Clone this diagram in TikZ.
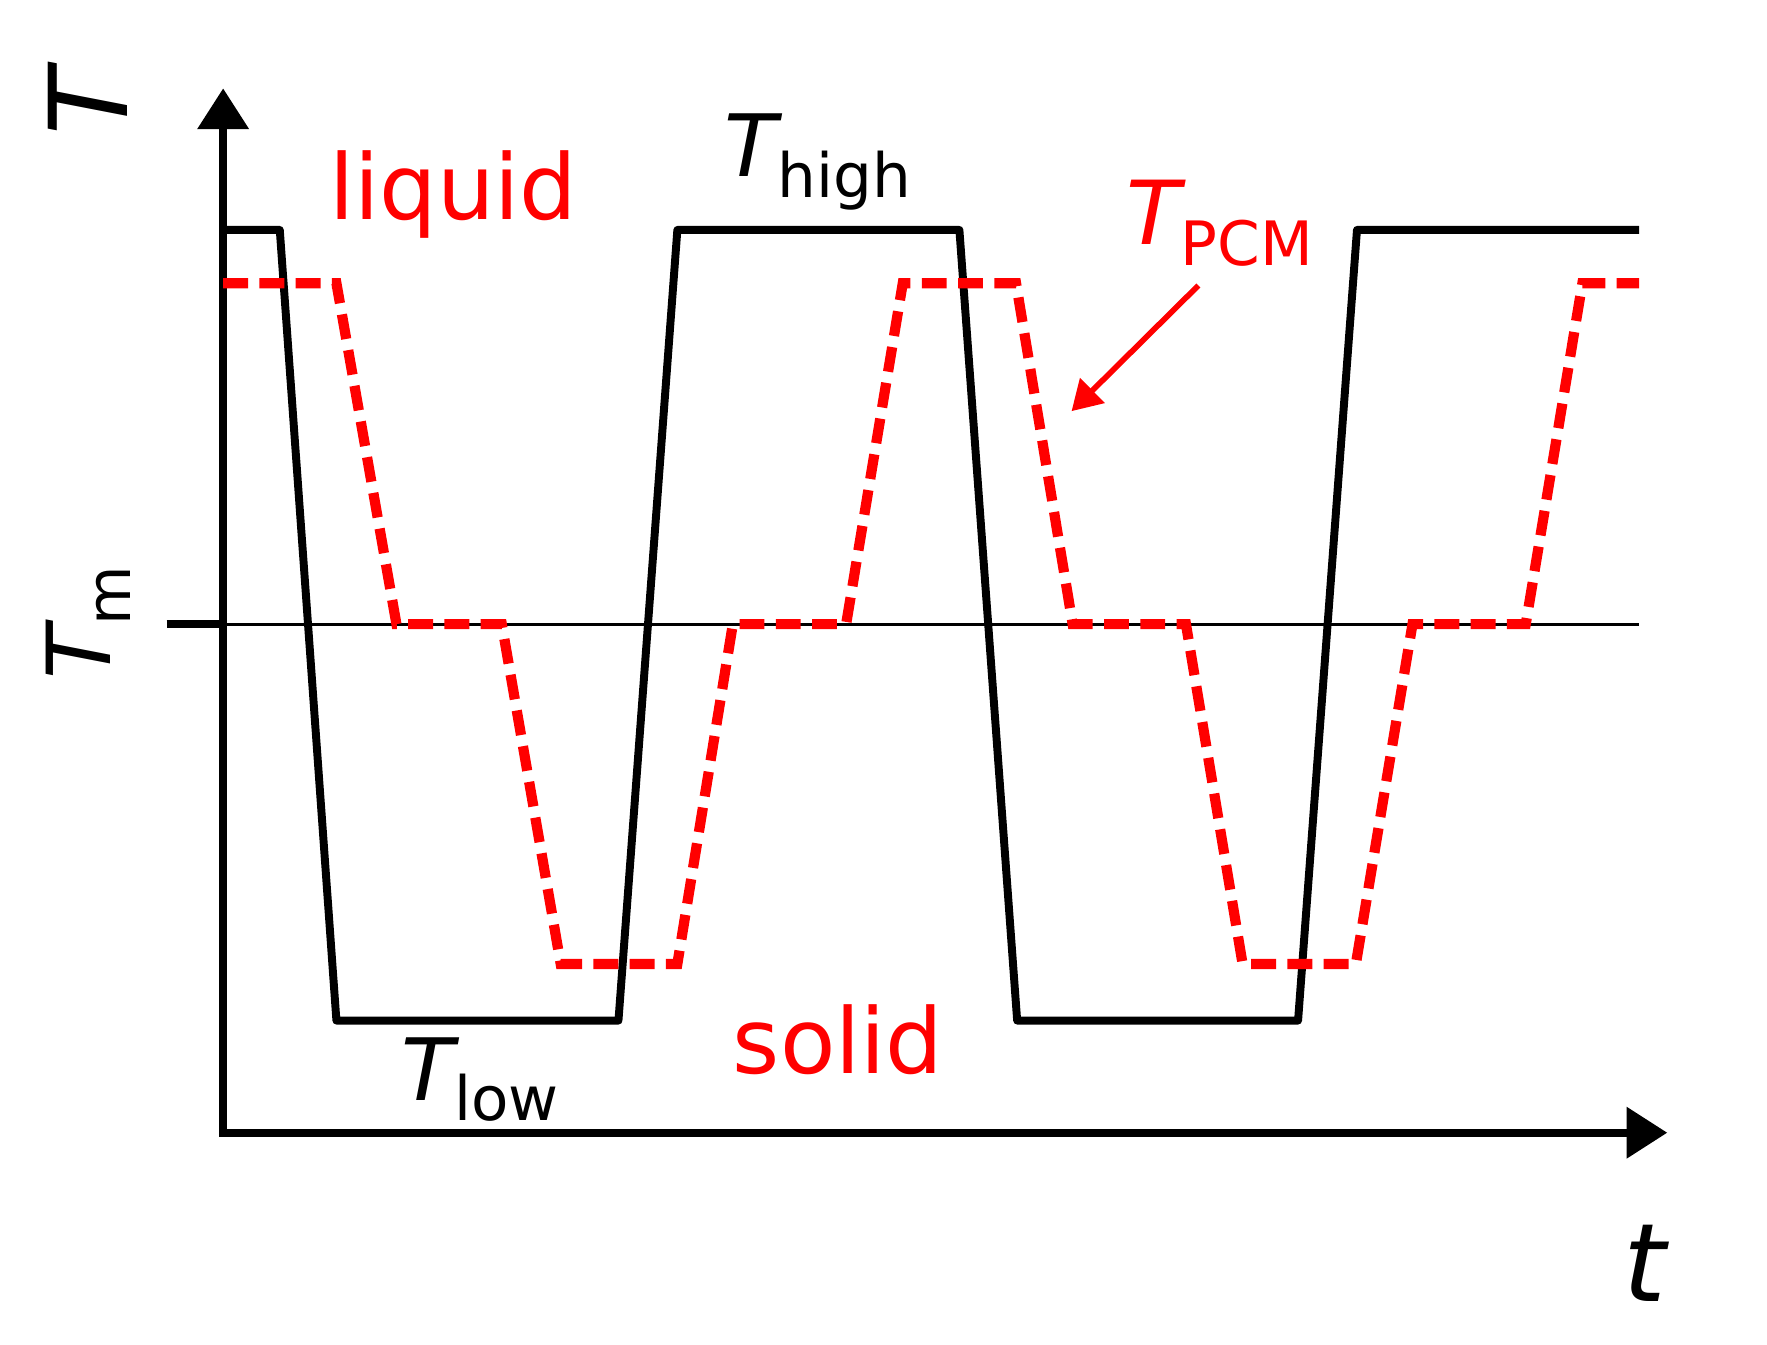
\documentclass[tikz,border=0pt]{standalone}
\usepackage{fontspec}
\setmainfont{DejaVu Sans}
\usetikzlibrary{arrows.meta}
\begin{document}
\begin{tikzpicture}[x=1pt,y=-1pt,
  ax/.style={line width=7pt,{Triangle[length=36pt,width=44pt]}-{Triangle[length=36pt,width=44pt]},line join=miter},
  blk/.style={line width=7pt,line join=round},
  red dash/.style={red,line width=9pt,dash pattern=on 22pt off 10pt},
  lbl/.style={inner sep=0pt,anchor=center}]
\useasboundingbox (0,0) rectangle (1560,1187);
% axes
\coordinate (o) at (197,1000);
\coordinate (ytop) at (197,78);
\coordinate (xend) at (1472,1000);
\draw[ax] (ytop) -- (o) -- (xend);
% Tm line
\coordinate (tm0) at (147,551);
\coordinate (tm1) at (197,551);
\coordinate (tm2) at (1447,551);
\draw[line width=2.5pt] (tm1) -- (tm2);
\draw[line width=7pt] (tm0) -- (tm1);
% black curve
\draw[blk] (197,203)--(247,203)--(297,901)--(546,901)--(598,203)--(847,203)--(898,901)--(1146,901)--(1198,203)--(1447,203);
% red curve
\draw[red dash] (197,250)--(297,250)--(350,551)--(443,551)--(495,851)--(598,851)--(647,551)--(747,551)--(797,250)--(897,250)--(947,551)--(1047,551)--(1097,851)--(1197,851)--(1247,551)--(1347,551)--(1397,250)--(1447,250);
% labels
\node[lbl,red] (liq) at (400,172) {\fontsize{80}{80}\selectfont liquid};
\node[lbl,red] (sol) at (740,918) {\fontsize{80}{80}\selectfont solid};
\node[lbl] (th) at (722,143) {\fontsize{76}{76}\selectfont\itshape T\raisebox{-18pt}{\fontsize{54}{54}\selectfont\upshape high}};
\node[lbl] (tl) at (424,953) {\fontsize{76}{76}\selectfont\itshape T\raisebox{-18pt}{\fontsize{54}{54}\selectfont\upshape low}};
\node[lbl,red] (tp) at (1077,197) {\fontsize{78}{78}\selectfont\itshape T\raisebox{-18pt}{\fontsize{54}{54}\selectfont\upshape PCM}};
\coordinate (pa) at (1058,252);
\coordinate (pb) at (946,363);
\draw[red,line width=5pt,-{Triangle[length=26pt,width=30pt]}] (pa) -- (pb);
\node[lbl,rotate=90] (yl) at (78,90) {\fontsize{96}{96}\selectfont\itshape T};
\node[lbl,rotate=90] (tml) at (78,550) {\fontsize{78}{78}\selectfont\itshape T\raisebox{-18pt}{\fontsize{54}{54}\selectfont\upshape m}};
\node[lbl] (xl) at (1452,1115) {\fontsize{96}{96}\selectfont\itshape t};
\end{tikzpicture}
\end{document}
